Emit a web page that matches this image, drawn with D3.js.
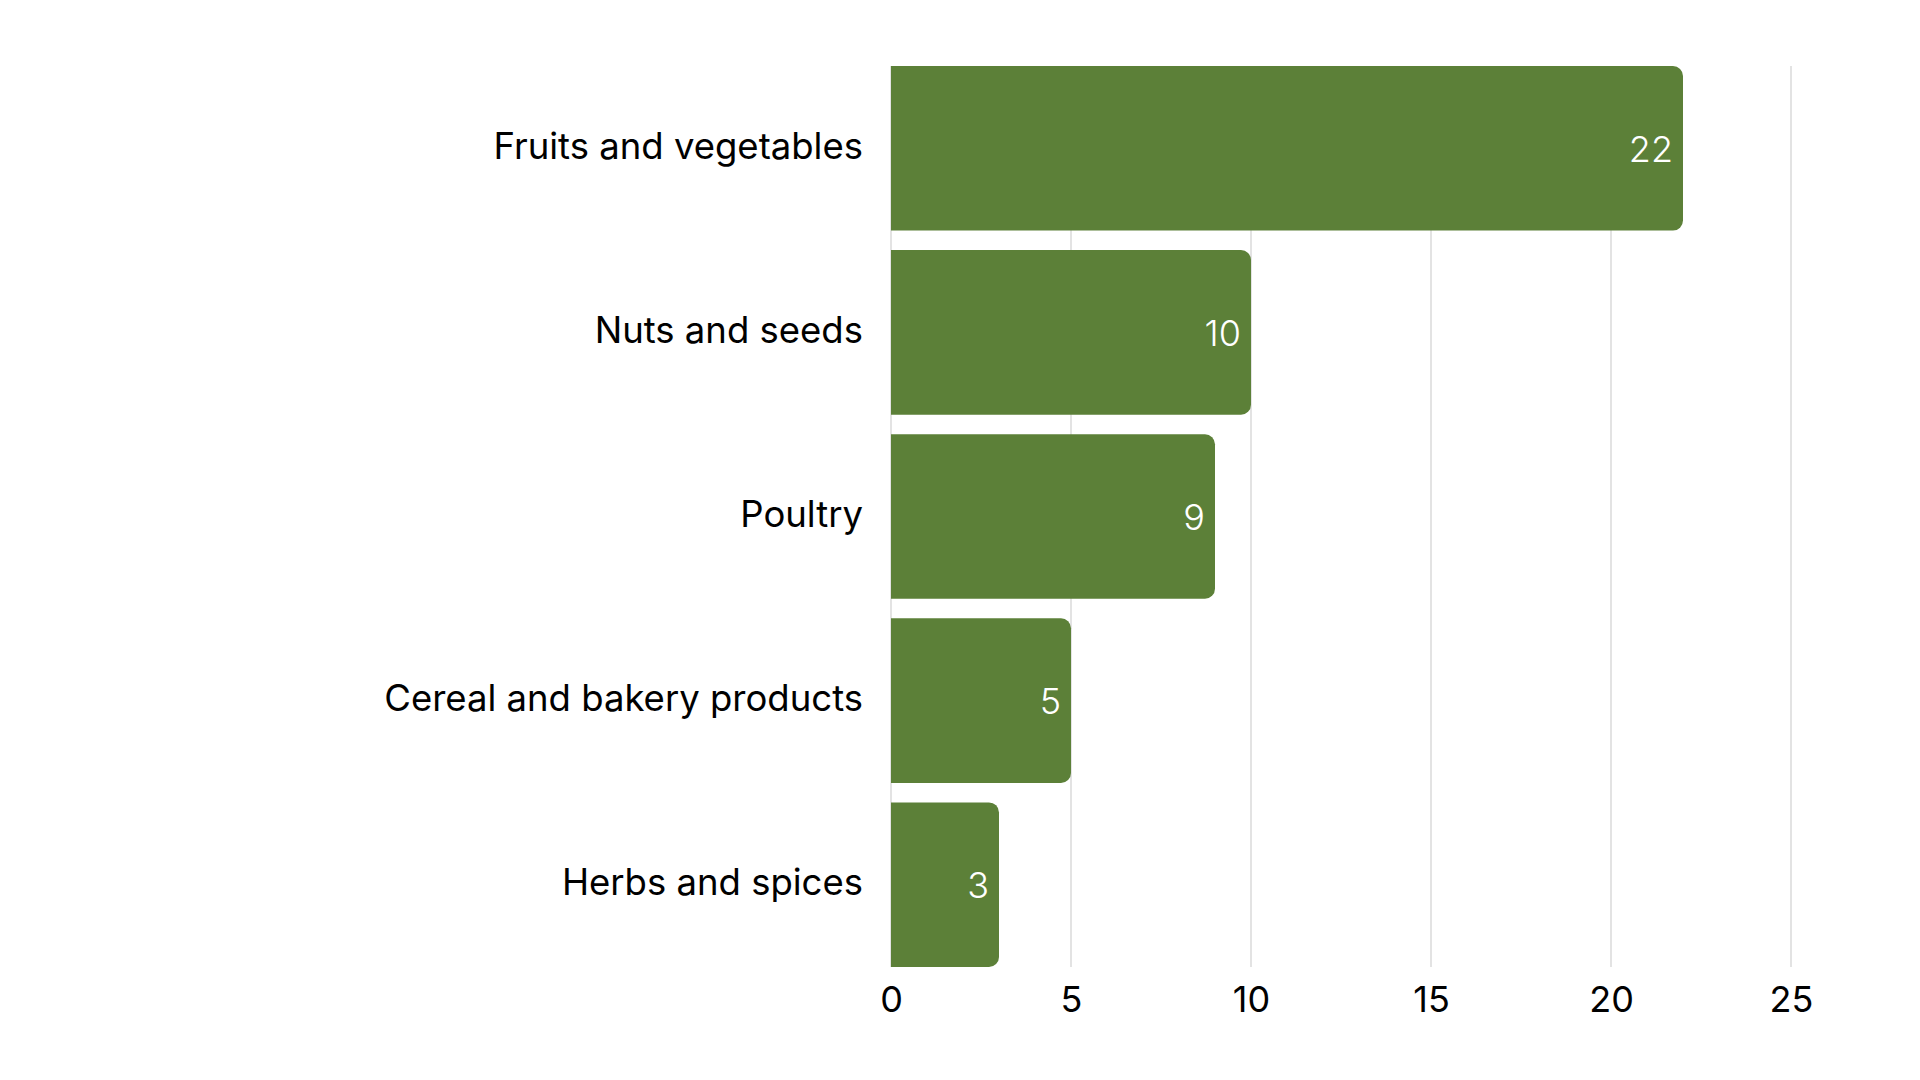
<!DOCTYPE html>
<html>
<head>
<meta charset="utf-8">
<script src="https://cdn.jsdelivr.net/npm/d3@7"></script>
<style>
  html, body { margin: 0; padding: 0; background: #ffffff; }
  svg { display: block; }
  text { font-family: Inter, "Noto Sans", sans-serif; }
</style>
</head>
<body>
<svg id="chart" width="1920" height="1080"></svg>
<script>
const categories = ["Fruits and vegetables", "Nuts and seeds", "Poultry", "Cereal and bakery products", "Herbs and spices"];
const values = [22, 10, 9, 5, 3];
const xTicks = [0, 5, 10, 15, 20, 25];

const svg = d3.select("#chart");
const margin = { left: 891, right: 129, top: 66, bottom: 113 };
const W = 1920, H = 1080;

const x = d3.scaleLinear().domain([0, 25]).range([margin.left, W - margin.right]);
const y = d3.scaleBand().domain(categories).range([margin.top, H - margin.bottom])
  .paddingInner(0.106).paddingOuter(0);

// gridlines
svg.append("g").selectAll("line").data(xTicks).join("line")
  .attr("x1", d => x(d)).attr("x2", d => x(d))
  .attr("y1", margin.top).attr("y2", H - margin.bottom)
  .attr("stroke", "#d4d4d4").attr("stroke-width", 1.3);

// x axis labels
const xAxis = d3.axisBottom(x).tickValues(xTicks).tickSize(0).tickPadding(0);
const gx = svg.append("g").attr("transform", `translate(0,${H - margin.bottom})`).call(xAxis);
gx.select(".domain").remove();
gx.selectAll("text").attr("font-family", "Inter, sans-serif").attr("font-size", 36)
  .attr("fill", "#000").attr("dy", null).attr("y", 45);

// y axis labels
const yAxis = d3.axisLeft(y).tickSize(0).tickPadding(28);
const gy = svg.append("g").attr("transform", `translate(${margin.left},0)`).call(yAxis);
gy.select(".domain").remove();
gy.selectAll("text").attr("font-family", "Inter, sans-serif").attr("font-size", 36.5)
  .attr("fill", "#000").attr("dy", "0.28em");

// bars with rounded right corners
const r = 10;
function barPath(d, i) {
  const x0 = x(0), x1 = x(values[i]);
  const y0 = y(categories[i]), h = y.bandwidth();
  const rr = Math.min(r, (x1 - x0) / 2, h / 2);
  return `M${x0},${y0} H${x1 - rr} A${rr},${rr} 0 0 1 ${x1},${y0 + rr} V${y0 + h - rr} A${rr},${rr} 0 0 1 ${x1 - rr},${y0 + h} H${x0} Z`;
}
svg.append("g").selectAll("path").data(values).join("path")
  .attr("d", (d, i) => barPath(d, i))
  .attr("fill", "#5c8038");

// value labels
svg.append("g").selectAll("text").data(values).join("text")
  .attr("x", d => x(d) - 10)
  .attr("y", (d, i) => y(categories[i]) + y.bandwidth() / 2)
  .attr("dy", "0.37em")
  .attr("text-anchor", "end")
  .attr("font-size", 36)
  .attr("font-weight", 300)
  .attr("fill", "#ffffff")
  .text(d => d);
</script>
</body>
</html>
